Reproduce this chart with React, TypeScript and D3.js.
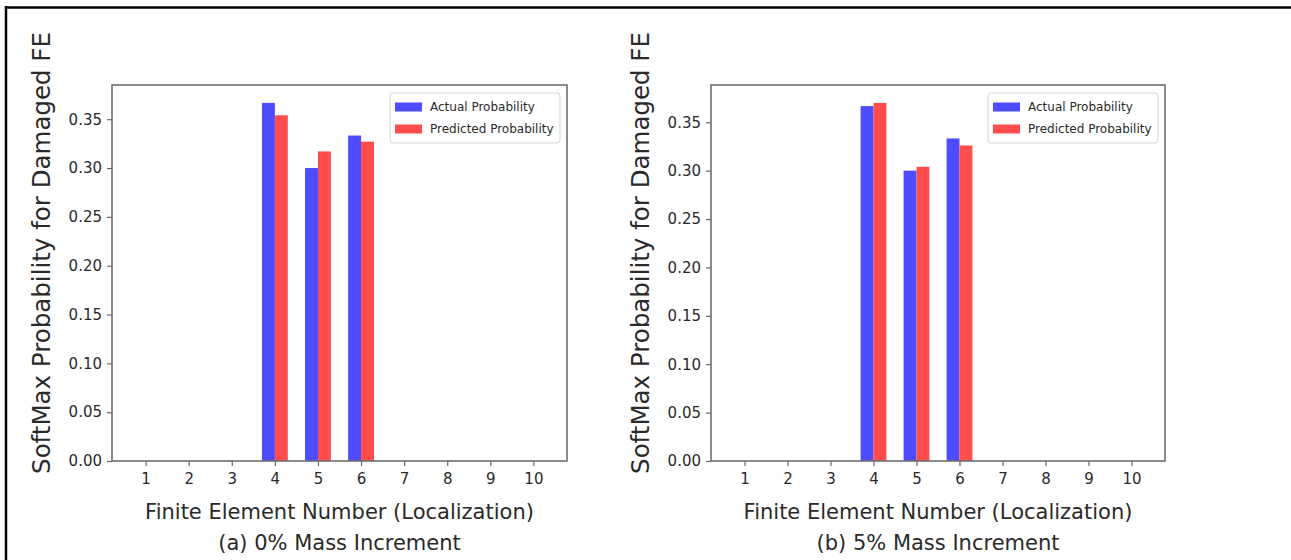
import { useEffect, useRef } from "react";
import * as d3 from "d3";

// finite element numbers on the x axis
const elements = [1, 2, 3, 4, 5, 6, 7, 8, 9, 10];
// softmax probabilities per element
const actualProb = [0, 0, 0, 0.3667, 0.3, 0.3333, 0, 0, 0, 0];
const predictedA = [0, 0, 0, 0.354, 0.317, 0.327, 0, 0, 0, 0];
const predictedB = [0, 0, 0, 0.37, 0.304, 0.326, 0, 0, 0, 0];
const yTicks = [0, 0.05, 0.1, 0.15, 0.2, 0.25, 0.3, 0.35];
const seriesNames = ["Actual Probability", "Predicted Probability"];
const captions = ["(a) 0% Mass Increment", "(b) 5% Mass Increment"];
const xTitle = "Finite Element Number (Localization)";
const yTitle = "SoftMax Probability for Damaged FE";

const colors = ["#4d4dff", "#ff4d4d"];
const font = "DejaVu Sans";
const textColor = "#2a2a2a";

function App() {
  const svgRef = useRef(null);

  useEffect(() => {
    const svg = d3.select(svgRef.current);
    svg.selectAll("*").remove();

    // cropped frame: top and left edges only
    svg.append("line").attr("x1", 5).attr("x2", 1291).attr("y1", 7.5).attr("y2", 7.5)
      .attr("stroke", "#000").attr("stroke-width", 2.5);
    svg.append("line").attr("x1", 6).attr("x2", 6).attr("y1", 6).attr("y2", 560)
      .attr("stroke", "#000").attr("stroke-width", 2.5);

    const panels = [
      { left: 112, width: 455, predicted: predictedA, caption: captions[0] },
      { left: 711, width: 454, predicted: predictedB, caption: captions[1] },
    ];
    const top = 85;
    const bottom = 461;
    const barW = 0.3;

    panels.forEach((p) => {
      const g = svg.append("g");
      const x = d3.scaleLinear().domain([0.22, 10.78]).range([p.left, p.left + p.width]);
      const maxV = d3.max([...actualProb, ...p.predicted]) * 1.05;
      const y = d3.scaleLinear().domain([0, maxV]).range([bottom, top]);

      // bars
      const series = [actualProb, p.predicted];
      series.forEach((vals, si) => {
        g.append("g")
          .selectAll("rect")
          .data(vals.map((v, i) => ({ v, e: elements[i] })).filter((d) => d.v > 0))
          .join("rect")
          .attr("x", (d) => x(d.e + (si === 0 ? -barW : 0)))
          .attr("width", (d) => x(d.e + barW) - x(d.e))
          .attr("y", (d) => y(d.v))
          .attr("height", (d) => y(0) - y(d.v))
          .attr("fill", colors[si]);
      });

      // axes
      const xAxis = d3.axisBottom(x).tickValues(elements).tickSize(5).tickPadding(7).tickFormat(d3.format("d"));
      const yAxis = d3.axisLeft(y).tickValues(yTicks).tickSize(5).tickPadding(5).tickFormat(d3.format(".2f"));
      const gx = g.append("g").attr("transform", `translate(0,${bottom})`).call(xAxis);
      const gy = g.append("g").attr("transform", `translate(${p.left},0)`).call(yAxis);
      [gx, gy].forEach((ax) => {
        ax.select(".domain").remove();
        ax.selectAll("line").attr("stroke", "#666").attr("stroke-width", 1.2);
        ax.selectAll("text").attr("font-family", font).attr("font-size", 15).attr("fill", textColor);
      });

      // frame
      g.append("rect").attr("x", p.left).attr("y", top).attr("width", p.width).attr("height", bottom - top)
        .attr("fill", "none").attr("stroke", "#6e6e6e").attr("stroke-width", 1.6);

      // legend
      const lx = p.left + p.width - 177;
      const ly = top + 8;
      const lg = g.append("g");
      lg.append("rect").attr("x", lx).attr("y", ly).attr("width", 170).attr("height", 50).attr("rx", 3)
        .attr("fill", "#fff").attr("fill-opacity", 0.8).attr("stroke", "#d4d4d4");
      seriesNames.forEach((name, i) => {
        const cy = ly + 14 + i * 22;
        lg.append("rect").attr("x", lx + 5).attr("y", cy - 4.5).attr("width", 27).attr("height", 9).attr("fill", colors[i]);
        lg.append("text").attr("x", lx + 40).attr("y", cy).attr("dy", "0.35em").text(name)
          .attr("font-family", font).attr("font-size", 12).attr("fill", textColor);
      });

      // titles
      const cx = p.left + p.width / 2;
      g.append("text").attr("x", cx).attr("y", 519).attr("text-anchor", "middle").text(xTitle)
        .attr("font-family", font).attr("font-size", 21).attr("fill", textColor);
      g.append("text").attr("x", cx).attr("y", 550).attr("text-anchor", "middle").text(p.caption)
        .attr("font-family", font).attr("font-size", 21).attr("fill", textColor);
      g.append("text").attr("transform", `translate(${p.left - 62},253) rotate(-90)`).attr("text-anchor", "middle")
        .text(yTitle).attr("font-family", font).attr("font-size", 24.5).attr("fill", textColor);
    });
  }, []);

  return (
    <svg ref={svgRef} width={1291} height={560}
      style={{ position: "absolute", left: 0, top: 0, background: "#fff" }} />
  );
}

export default App;
